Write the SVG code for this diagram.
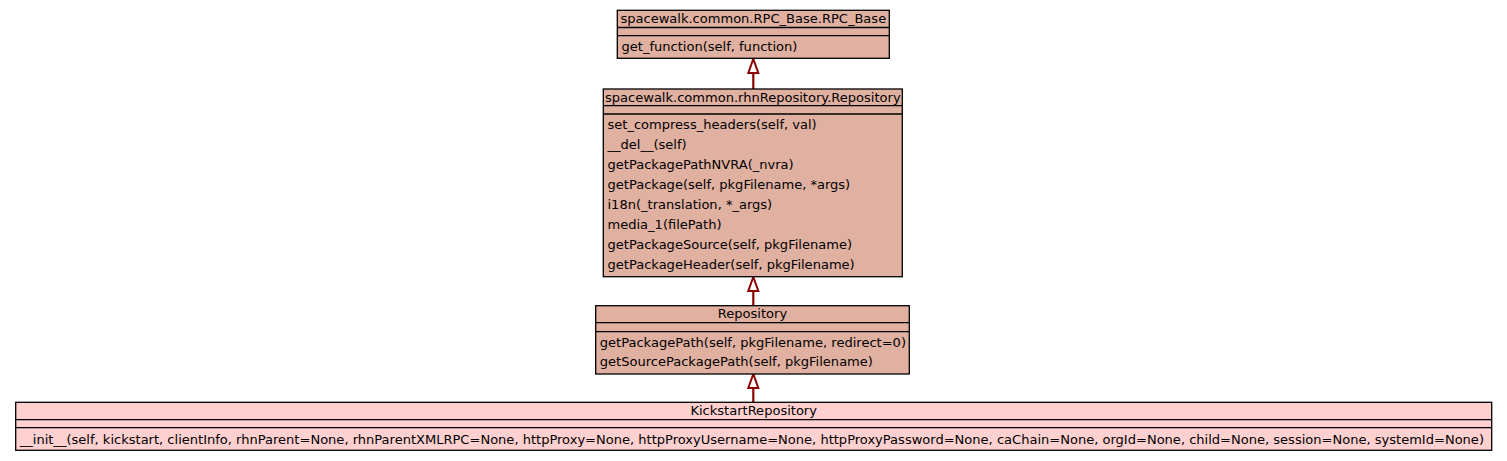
<svg xmlns="http://www.w3.org/2000/svg" width="1507" height="461" viewBox="0 0 1507 461">
<style>
text{font-family:"DejaVu Sans",sans-serif;font-size:13.04px;fill:#000}
.t{text-anchor:middle}
.box{fill:#E0B0A0;stroke:#000;stroke-width:1.3}
.leaf{fill:#FFD0D0;stroke:#000;stroke-width:1.3}
.sep{stroke:#000;stroke-width:1.3}
.edge{stroke:#8B0000;stroke-width:2.2;fill:none}
.head{fill:#fff;stroke:#8B0000;stroke-width:2}
</style>
<rect width="1507" height="461" fill="#fff"/>
<g id="connectors">
<line class="edge" x1="753.3" y1="73" x2="753.3" y2="89"/>
<polygon class="head" points="753.3,59 748.3,73 758.3,73"/>
<line class="edge" x1="753.3" y1="291" x2="753.3" y2="305.7"/>
<polygon class="head" points="753.3,277 748.3,291 758.3,291"/>
<line class="edge" x1="753.3" y1="388" x2="753.3" y2="402.3"/>
<polygon class="head" points="753.3,374 748.3,388 758.3,388"/>
</g>
<g id="RPC_Base">
<rect class="box" x="617.3" y="10.3" width="272" height="48"/>
<line class="sep" x1="617.3" y1="27.5" x2="889.3" y2="27.5"/>
<line class="sep" x1="617.3" y1="35.7" x2="889.3" y2="35.7"/>
<text class="t" x="753.3" y="23.3">spacewalk.common.RPC_Base.RPC_Base</text>
<text x="621.5" y="51">get_function(self, function)</text>
</g>
<g id="rhnRepository">
<rect class="box" x="603.3" y="89" width="299" height="187.7"/>
<line class="sep" x1="603.3" y1="105.7" x2="902.3" y2="105.7"/>
<line class="sep" x1="603.3" y1="114" x2="902.3" y2="114"/>
<text class="t" x="752.8" y="101.7">spacewalk.common.rhnRepository.Repository</text>
<text x="607.5" y="129.3">set_compress_headers(self, val)</text>
<text x="607.5" y="149.3">__del__(self)</text>
<text x="607.5" y="169.3">getPackagePathNVRA(_nvra)</text>
<text x="607.5" y="189.3">getPackage(self, pkgFilename, *args)</text>
<text x="607.5" y="209.3">i18n(_translation, *_args)</text>
<text x="607.5" y="229.3">media_1(filePath)</text>
<text x="607.5" y="249.3">getPackageSource(self, pkgFilename)</text>
<text x="607.5" y="269.3">getPackageHeader(self, pkgFilename)</text>
</g>
<g id="Repository">
<rect class="box" x="595.7" y="305.7" width="313.6" height="68.3"/>
<line class="sep" x1="595.7" y1="322.7" x2="909.3" y2="322.7"/>
<line class="sep" x1="595.7" y1="331.7" x2="909.3" y2="331.7"/>
<text class="t" x="752.5" y="317.5">Repository</text>
<text x="599.8" y="346.7">getPackagePath(self, pkgFilename, redirect=0)</text>
<text x="599.8" y="366.3">getSourcePackagePath(self, pkgFilename)</text>
</g>
<g id="KickstartRepository">
<rect class="leaf" x="15.7" y="402.3" width="1476" height="48"/>
<line class="sep" x1="15.7" y1="419.7" x2="1491.7" y2="419.7"/>
<line class="sep" x1="15.7" y1="427.7" x2="1491.7" y2="427.7"/>
<text class="t" x="753.7" y="414.7">KickstartRepository</text>
<text x="19.8" y="443.5">__init__(self, kickstart, clientInfo, rhnParent=None, rhnParentXMLRPC=None, httpProxy=None, httpProxyUsername=None, httpProxyPassword=None, caChain=None, orgId=None, child=None, session=None, systemId=None)</text>
</g>
</svg>
